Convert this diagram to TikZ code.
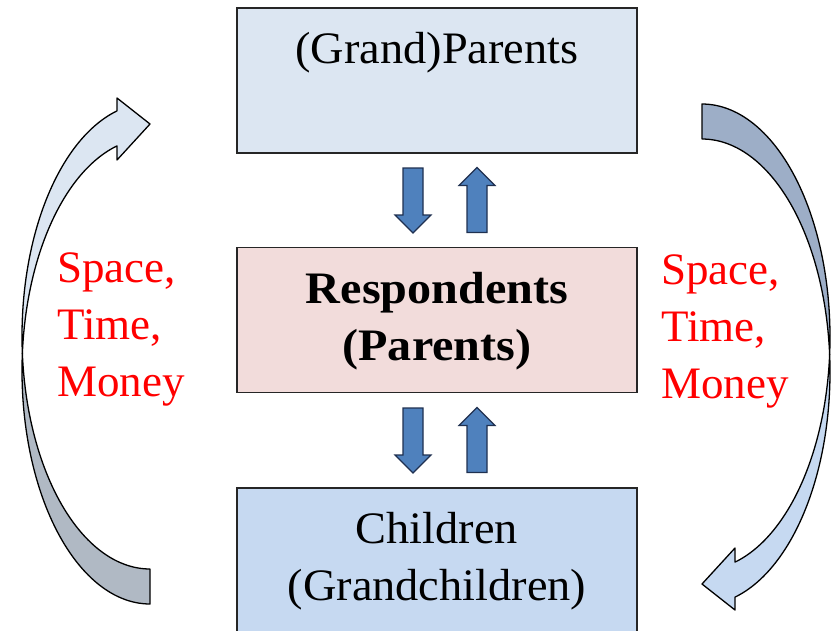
\documentclass[tikz,border=0pt]{standalone}
\usepackage{fontspec}
\setmainfont{Liberation Serif}
\newfontfamily\boxfont[FakeStretch=1.03, BoldFeatures={FakeStretch=1.07}]{Liberation Serif}

\definecolor{gpfill}{HTML}{DCE6F2}
\definecolor{resfill}{HTML}{F2DCDB}
\definecolor{chfill}{HTML}{C6D9F1}
\definecolor{arrowblue}{HTML}{4F81BD}
\definecolor{arrowline}{HTML}{1F3050}
\definecolor{leftback}{HTML}{B0B9C4}
\definecolor{rightback}{HTML}{9DAEC7}

\tikzset{
  box/.style={draw=black!85, line width=1.4pt, minimum width=400pt,
    minimum height=145pt, inner sep=0pt, outer sep=0pt},
  txt/.style={font=\boxfont\fontsize{45}{57}\selectfont, anchor=base, inner sep=0pt},
  boldtxt/.style={font=\boxfont\fontsize{45}{57}\selectfont\bfseries, anchor=base, inner sep=0pt},
  flow/.style={font=\fontsize{45}{57}\selectfont, text=red, anchor=base west, inner sep=0pt},
  band/.style={draw=black, line width=1.3pt, line join=round},
  % twisted ribbon arrow: two equal ellipses shifted vertically by the band width
  pics/loopband/.style 2 args={code={
    \filldraw[band, fill=#1]
      plot[domain=90:184.31, samples=60, variable=\t] ({128*cos(\t)}, {233*sin(\t)})
      -- plot[domain=175.69:90, samples=60, variable=\t] ({128*cos(\t)}, {-35+233*sin(\t)})
      -- cycle;
    \filldraw[band, fill=#2]
      plot[domain=175.69:255.06, samples=60, variable=\t] ({128*cos(\t)}, {-35+233*sin(\t)})
      -- (-33,-273) -- (0,-247) -- (-33,-211)
      -- plot[domain=255.06:184.31, samples=60, variable=\t] ({128*cos(\t)}, {233*sin(\t)})
      -- cycle;
  }},
  pics/blockdown/.style={code={
    \filldraw[fill=arrowblue, draw=arrowline, line width=1.2pt, line join=miter]
      (-10,-32.5) -- (10,-32.5) -- (10,14.5) -- (18,14.5) -- (0,32.5)
      -- (-18,14.5) -- (-10,14.5) -- cycle;
  }},
}

\begin{document}
\begin{tikzpicture}[x=1pt, y=-1pt]
\clip (0,0) rectangle (837,630);
\fill[white] (0,0) rectangle (837,630);

% generations
\node[box, fill=gpfill] (gp) at (437,80.5) {};
\node[box, fill=resfill] (resp) at (437,320) {};
\node[box, fill=chfill] (kids) at (437,560.5) {};

\node[txt] (gpname) at (437,63) {(Grand)Parents};
\node[boldtxt] (resp1) at (437,303) {Respondents};
\node[boldtxt] (resp2) at (437,360) {(Parents)};
\node[txt] (kids1) at (437,543) {Children};
\node[txt] (kids2) at (437,600) {(Grandchildren)};

% exchanges between neighbouring generations
\pic at (413,200.5) {blockdown};
\pic[rotate=180] at (477,200) {blockdown};
\pic at (413,440.5) {blockdown};
\pic[rotate=180] at (477,440) {blockdown};

% transfers skipping a generation
\pic at (150,371) {loopband={leftback}{gpfill}};
\pic[rotate=180] at (702,337) {loopband={rightback}{chfill}};

\node[flow] (ls) at (57,282) {Space,};
\node[flow] (lt) at (57,339) {Time,};
\node[flow] (lm) at (57,396) {Money};
\node[flow] (rs) at (661,284) {Space,};
\node[flow] (rt) at (661,341) {Time,};
\node[flow] (rm) at (661,398) {Money};
\end{tikzpicture}
\end{document}
